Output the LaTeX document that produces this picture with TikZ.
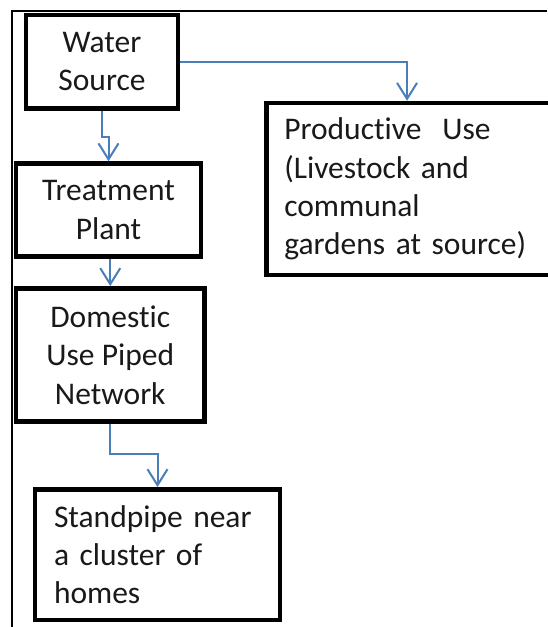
\documentclass[tikz,border=0pt]{standalone}
\usepackage{fontspec}
\setmainfont{Carlito}[Ligatures=NoCommon]
\usetikzlibrary{arrows.meta,calc}
\definecolor{arrowblue}{HTML}{4A7EBB}
\begin{document}
\begin{tikzpicture}[x=1pt,y=-1pt,
  box/.style={draw=black,line width=4.5pt,rectangle,inner sep=0pt,
    font=\fontsize{31.5}{38.3}\selectfont,text=black!90},
  flow/.style={draw=arrowblue,line width=2pt,
    -{Straight Barb[length=16pt,width=20pt,line width=2pt]}},
  frame/.style={draw=black,line width=2pt}]
\useasboundingbox (0,0) rectangle (547,627);
\coordinate (ftop) at (547,11);
\coordinate (fcorner) at (11.5,11);
\coordinate (fbottom) at (11.5,640);
\draw[frame] (ftop) -- (fcorner) -- (fbottom);
\node[box,minimum width=152pt,minimum height=93.5pt,align=center] (water) at (102,61.75) {Water\\Source};
\node[box,minimum width=185pt,minimum height=93pt,align=center] (treat) at (108.5,210) {Treatment\\Plant};
\node[box,minimum width=188.5pt,minimum height=133.4pt,align=center] (dom) at (110.25,355) {Domestic\\Use Piped\\Network};
\node[box,minimum width=245pt,minimum height=130.7pt,text width=207pt,align=left] (stand) at (157.5,554.65) {Standpipe near\\a cluster of\\homes};
\node[box,minimum width=300pt,minimum height=172pt,text width=264pt,align=left] (prod) at (416.3,189) {Productive\ \ Use\\(Livestock and\\communal\\gardens at source)};
\draw[flow] (water.east) -| ([xshift=143pt]prod.north west);
\draw[flow] (water.south) -- ++(0,26) -| (treat.north);
\draw[flow] (treat.south -| dom.north) -- (dom.north);
\draw[flow] (dom.south) -- ++(0,30) -| (stand.north);
\end{tikzpicture}
\end{document}
